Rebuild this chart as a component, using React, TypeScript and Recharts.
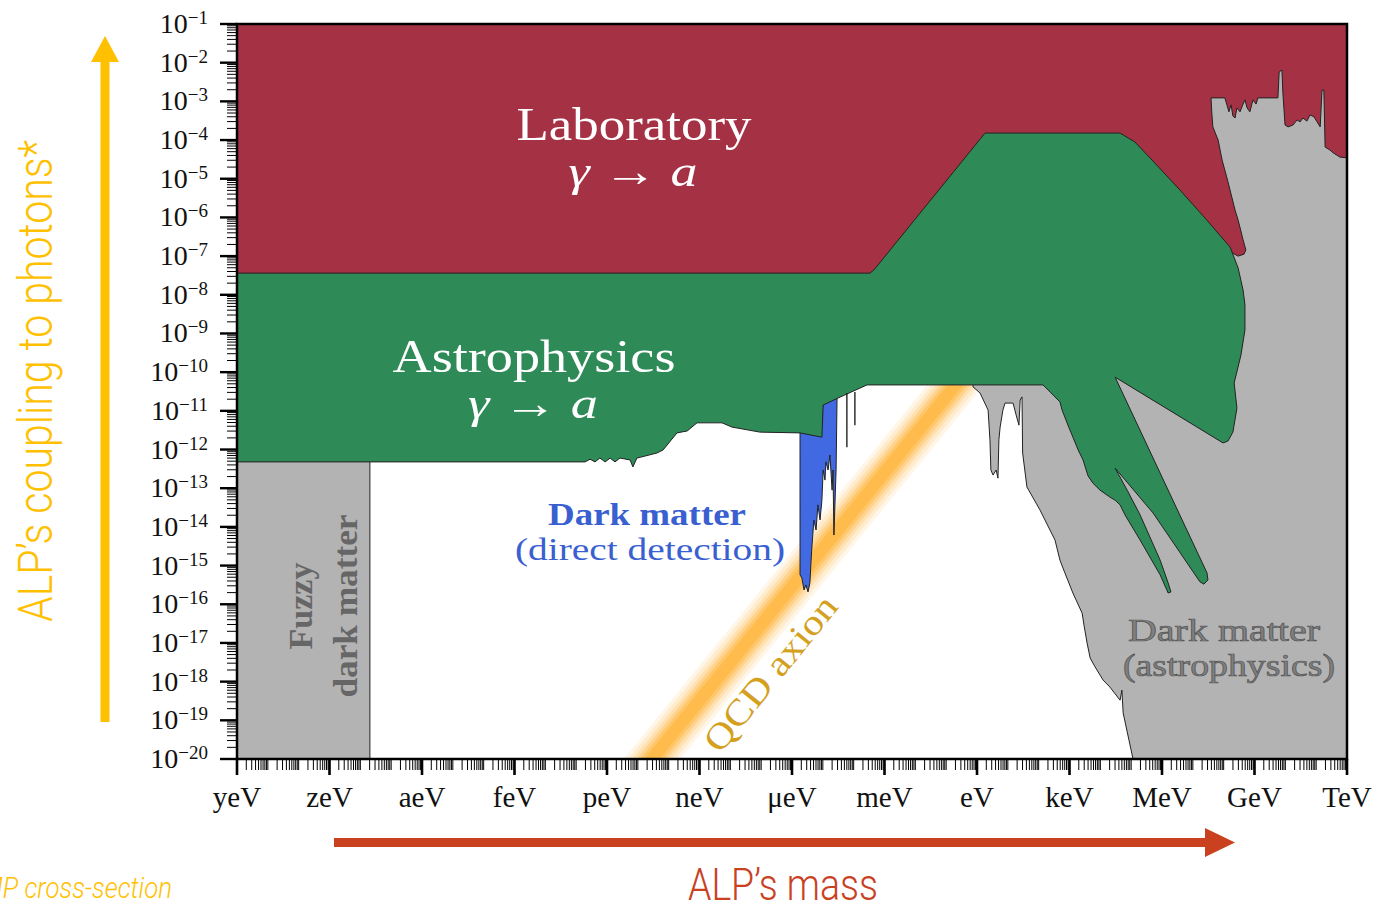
import React from 'react';
import { ScatterChart, Scatter, XAxis, YAxis } from 'recharts';

// x = log10(ALP mass / eV), y = log10(coupling to photons)
type Pt = [number, number];

const massRange = [-24, 12];
const couplingRange = [-20, -1];
const massLabels = ['yeV', 'zeV', 'aeV', 'feV', 'peV', 'neV', 'μeV', 'meV', 'eV', 'keV', 'MeV', 'GeV', 'TeV'];

const laboratory: Pt[] = [
  [-24, -1], [12, -1], [12, -7.36], [8.4, -7.36], [5.61, -4.72], [4.64, -4.05], [0.26, -4.05],
  [-3.08, -7.28], [-3.47, -7.64], [-24, -7.64], [-24, -1],
];

const fuzzyDM: Pt[] = [[-24, -12.14], [-19.69, -12.14], [-19.69, -20], [-24, -20], [-24, -12.14]];

const directDetection: Pt[] = [
  [-5.74, -11.37], [-5.03, -11.37], [-4.99, -10.59], [-4.54, -10.59], [-4.54, -10.72], [-4.57, -12.53],
  [-4.64, -14.21], [-4.67, -12.53], [-4.7, -13.05], [-4.77, -12.14], [-4.83, -12.53], [-4.9, -12.32],
  [-4.93, -12.79], [-4.99, -12.53], [-5.03, -13.31], [-5.09, -13.82], [-5.16, -13.43], [-5.22, -14.08],
  [-5.29, -13.82], [-5.35, -14.47], [-5.38, -14.86], [-5.42, -15.45], [-5.48, -15.68], [-5.55, -15.5],
  [-5.61, -15.63], [-5.68, -15.32], [-5.74, -15.24], [-5.74, -11.37],
];

const directSpikes: Pt[][] = [
  [[-4.22, -10.54], [-4.22, -11.94]],
  [[-3.96, -10.51], [-3.96, -11.37]],
];

const astroDM: Pt[] = [
  [7.59, -2.91], [8.04, -2.91], [8.17, -3.27], [8.24, -3.09], [8.3, -3.38], [8.37, -3.43], [8.43, -3.17],
  [8.53, -3.27], [8.63, -3.07], [8.69, -2.96], [8.76, -3.17], [8.85, -3.27], [8.95, -2.96], [9.05, -3.07],
  [9.11, -2.91], [9.76, -2.91], [9.8, -2.24], [9.89, -2.19], [9.92, -2.78], [9.99, -3.61], [10.09, -3.66],
  [10.25, -3.61], [10.38, -3.48], [10.48, -3.53], [10.57, -3.43], [10.7, -3.51], [10.8, -3.35], [10.93, -3.4],
  [11.03, -3.53], [11.13, -3.66], [11.19, -2.71], [11.25, -2.71], [11.29, -4.18], [11.45, -4.26],
  [11.55, -4.33], [11.77, -4.44], [12, -4.46], [12, -20], [5.06, -20], [4.74, -18.81], [4.7, -18.22],
  [4.64, -18.48], [4.31, -18.14], [4.09, -17.96], [3.83, -17.62], [3.67, -17.39], [3.57, -17.0],
  [3.47, -16.54], [3.41, -16.23], [3.11, -15.71], [2.85, -15.19], [2.69, -14.86], [2.53, -14.34],
  [2.04, -13.56], [1.62, -12.97], [1.48, -12.09], [1.46, -10.64], [1.4, -10.72], [1.36, -11.37],
  [1.27, -11.11], [1.17, -10.8], [0.91, -10.8], [0.84, -10.98], [0.75, -11.42], [0.71, -11.75],
  [0.68, -12.74], [0.62, -12.53], [0.52, -12.66], [0.45, -12.53], [0.42, -11.75], [0.36, -10.98],
  [0.1, -10.54], [-0.13, -10.38], [-0.13, -8.13], [7.23, -8.13], [8.21, -6.89], [8.47, -7.0],
  [8.66, -6.95], [8.72, -6.84], [8.63, -6.58], [8.47, -6.07], [8.37, -5.81], [8.14, -5.08], [7.95, -4.52],
  [7.82, -4.0], [7.65, -3.66], [7.62, -3.35], [7.59, -2.91],
];

const astrophysics: Pt[] = [
  [-24, -7.44], [-3.47, -7.44], [-3.31, -7.33], [-3.08, -7.1], [0.26, -3.82], [4.64, -3.82], [5.12, -4.05],
  [5.61, -4.46], [6.58, -5.29], [7.4, -6.02], [8.21, -6.77], [8.47, -7.31], [8.63, -7.88], [8.69, -8.26],
  [8.69, -8.91], [8.56, -9.56], [8.34, -10.28], [8.43, -10.93], [8.3, -11.55], [8.14, -11.78],
  [7.98, -11.83], [4.48, -10.13], [7.46, -15.19], [7.49, -15.37], [7.36, -15.48], [7.23, -15.42],
  [5.71, -13.64], [4.48, -12.48], [4.87, -13.05], [5.29, -13.69], [5.94, -14.86], [6.2, -15.45],
  [6.29, -15.68], [6.2, -15.71], [5.94, -15.24], [5.29, -14.34], [4.8, -13.69], [4.64, -13.43],
  [4.48, -13.31], [4.31, -13.23], [3.99, -13.05], [3.76, -12.87], [3.6, -12.68], [3.44, -12.27],
  [3.28, -12.01], [3.11, -11.68], [2.95, -11.37], [2.76, -10.98], [2.69, -10.77], [2.37, -10.51],
  [2.14, -10.33], [-3.57, -10.33], [-4.51, -10.67], [-4.99, -10.85], [-5.03, -11.68], [-5.74, -11.57],
  [-7.04, -11.55], [-7.95, -11.42], [-8.27, -11.31], [-9.08, -11.31], [-9.4, -11.52], [-9.73, -11.57],
  [-10.18, -12.01], [-10.38, -12.09], [-10.77, -12.17], [-11.03, -12.22], [-11.16, -12.45],
  [-11.25, -12.27], [-11.58, -12.22], [-11.74, -12.32], [-11.9, -12.22], [-12.06, -12.32],
  [-12.23, -12.22], [-12.39, -12.32], [-12.55, -12.25], [-12.71, -12.32], [-13.04, -12.32],
  [-24, -12.32], [-24, -7.44],
];

const qcdAxion: Pt[] = [[-11.56, -21], [0.15, -9.5]];

// soft edges of the QCD band: wide faint strokes under narrow strong ones
const qcdStrokes = [
  { width: 44, opacity: 0.12 },
  { width: 37, opacity: 0.15 },
  { width: 30, opacity: 0.22 },
  { width: 24, opacity: 0.3 },
  { width: 18, opacity: 0.45 },
  { width: 12, opacity: 0.7 },
];

const regions = [
  { name: 'laboratory', pts: laboratory, fill: '#a53145' },
  { name: 'fuzzy', pts: fuzzyDM, fill: '#b3b3b3' },
  { name: 'direct', pts: directDetection, fill: '#4169e1' },
  { name: 'astroDM', pts: astroDM, fill: '#b3b3b3' },
  { name: 'astrophysics', pts: astrophysics, fill: '#2e8b57' },
];

const serif = '"Liberation Serif", "DejaVu Serif", serif';
const thin = 'Roboto, "Open Sans", "Liberation Sans", sans-serif';

const log10 = (k: number) => Math.log(k) / Math.LN10;
const minorTicks = (from: number, to: number) => {
  const out: number[] = [];
  for (let n = from; n <= to; n++) {
    out.push(n);
    if (n < to) for (let k = 2; k <= 9; k++) out.push(n + log10(k));
  }
  return out;
};
const massTicks = minorTicks(massRange[0], massRange[1]);
const couplingTicks = minorTicks(couplingRange[0], couplingRange[1]);

const isDecade = (v: number) => Math.abs(v - Math.round(v)) < 1e-9;
const toRows = (pts: Pt[]) => pts.map(([m, g]) => ({ m, g }));
const noDot = () => <g />;

const MassTick = (props: any) => {
  const { x, y, payload } = props;
  const v: number = payload.value;
  const step = Math.round(v) - massRange[0];
  const label = isDecade(v) && step % 3 === 0 ? massLabels[step / 3] : null;
  return (
    <g>
      <line x1={x} x2={x} y1={y} y2={y + (label ? 16 : 11)} stroke="#000" strokeWidth={label ? 2.6 : 1} />
      {label && (
        <text x={x} y={y + 48} textAnchor="middle" fontFamily={serif} fontSize={29} fill="#111">
          {label}
        </text>
      )}
    </g>
  );
};

const CouplingTick = (props: any) => {
  const { x, y, payload } = props;
  const v: number = payload.value;
  const dec = isDecade(v);
  return (
    <g>
      <line x1={x - (dec ? 17 : 10)} x2={x} y1={y} y2={y} stroke="#000" strokeWidth={dec ? 2.4 : 1} />
      {dec && (
        <text x={x - 29} y={y + 9} textAnchor="end" fontFamily={serif} fontSize={28} fill="#111">
          10
          <tspan dy={-9} fontSize={19}>
            {'\u2212' + Math.abs(Math.round(v))}
          </tspan>
        </text>
      )}
    </g>
  );
};

const Overlay = () => (
  <svg
    width={1376}
    height={911}
    style={{ position: 'absolute', left: 0, top: 0, pointerEvents: 'none' }}
  >
    <rect x={237} y={24} width={1110} height={735} fill="none" stroke="#000" strokeWidth={2.5} />

    <text x={634} y={140} textAnchor="middle" fontFamily={serif} fontSize={46} fill="#fff" textLength={235} lengthAdjust="spacingAndGlyphs">
      Laboratory
    </text>
    <text x={633} y={186} textAnchor="middle" fontFamily={serif} fontSize={44} fill="#fff" textLength={129} lengthAdjust="spacingAndGlyphs">
      <tspan fontStyle="italic">γ</tspan> → <tspan fontStyle="italic">a</tspan>
    </text>

    <text x={534} y={372} textAnchor="middle" fontFamily={serif} fontSize={46} fill="#fff" textLength={283} lengthAdjust="spacingAndGlyphs">
      Astrophysics
    </text>
    <text x={533} y={418} textAnchor="middle" fontFamily={serif} fontSize={44} fill="#fff" textLength={130} lengthAdjust="spacingAndGlyphs">
      <tspan fontStyle="italic">γ</tspan> → <tspan fontStyle="italic">a</tspan>
    </text>

    <text x={647} y={525} textAnchor="middle" fontFamily={serif} fontSize={32} fontWeight="bold" fill="#3a5fd0" textLength={198} lengthAdjust="spacingAndGlyphs">
      Dark matter
    </text>
    <text x={650} y={560} textAnchor="middle" fontFamily={serif} fontSize={32} fill="#3a5fd0" textLength={270} lengthAdjust="spacingAndGlyphs">
      (direct detection)
    </text>

    <text x={312} y={606} transform="rotate(-90 312 606)" textAnchor="middle" fontFamily={serif} fontSize={34} fontWeight="bold" fill="#666">
      Fuzzy
    </text>
    <text x={357} y={606} transform="rotate(-90 357 606)" textAnchor="middle" fontFamily={serif} fontSize={34} fontWeight="bold" fill="#666" textLength={183} lengthAdjust="spacingAndGlyphs">
      dark matter
    </text>

    <text x={1224} y={641} textAnchor="middle" fontFamily={serif} fontSize={32} fill="#808080" stroke="#555" strokeWidth={0.7} textLength={192} lengthAdjust="spacingAndGlyphs">
      Dark matter
    </text>
    <text x={1229} y={676} textAnchor="middle" fontFamily={serif} fontSize={32} fill="#808080" stroke="#555" strokeWidth={0.7} textLength={212} lengthAdjust="spacingAndGlyphs">
      (astrophysics)
    </text>

    <text x={770} y={673} dy="0.35em" transform="rotate(-51 770 673)" textAnchor="middle" fontFamily={serif} fontSize={36} fill="#d4a020" textLength={190} lengthAdjust="spacingAndGlyphs">
      QCD axion
    </text>

    {/* coupling arrow and title */}
    <rect x={100.5} y={60} width={9} height={662} fill="#ffc000" />
    <polygon points="91,62 105,36 119,62" fill="#ffc000" />
    <text x={52} y={381} transform="rotate(-90 52 381)" textAnchor="middle" fontFamily={thin} fontWeight={300} fontSize={48} fill="#ffc000" textLength={482} lengthAdjust="spacingAndGlyphs">
      ALP’s coupling to photons*
    </text>

    {/* mass arrow and title */}
    <rect x={334} y={838} width={873} height={9} fill="#c9411f" />
    <polygon points="1205,828 1235,842.5 1205,857" fill="#c9411f" />
    <text x={783} y={900} textAnchor="middle" fontFamily={thin} fontWeight={300} fontSize={44} fill="#c9411f" textLength={190} lengthAdjust="spacingAndGlyphs">
      ALP’s mass
    </text>

    {/* the reference crops this label at the left edge */}
    <text x={172} y={898} textAnchor="end" fontFamily={thin} fontWeight={300} fontSize={29} fontStyle="italic" fill="#ffc000" textLength={220} lengthAdjust="spacingAndGlyphs">
      WIMP cross-section
    </text>
  </svg>
);

export default function App() {
  return (
    <div style={{ position: 'absolute', left: 0, top: 0, width: 1376, height: 911, background: '#fff' }}>
      <ScatterChart width={1376} height={911} margin={{ top: 24, right: 29, bottom: 0, left: 0 }}>
        <XAxis
          type="number"
          dataKey="m"
          domain={massRange}
          ticks={massTicks}
          interval={0}
          tick={MassTick}
          tickLine={false}
          axisLine={false}
          tickSize={0}
          tickMargin={0}
          height={152}
          allowDataOverflow
        />
        <YAxis
          type="number"
          dataKey="g"
          domain={couplingRange}
          ticks={couplingTicks}
          interval={0}
          tick={CouplingTick}
          tickLine={false}
          axisLine={false}
          tickSize={0}
          tickMargin={0}
          width={237}
          allowDataOverflow
        />

        {qcdStrokes.map((s, i) => (
          <Scatter
            key={`qcd-${i}`}
            data={toRows(qcdAxion)}
            shape={noDot}
            line={{ stroke: '#ffb640', strokeWidth: s.width, strokeOpacity: s.opacity, fill: 'none' }}
            isAnimationActive={false}
          />
        ))}

        {regions.map((r) => (
          <Scatter
            key={r.name}
            data={toRows(r.pts)}
            shape={noDot}
            line={{ fill: r.fill, stroke: '#222', strokeWidth: 1, strokeLinejoin: 'round' }}
            isAnimationActive={false}
          />
        ))}

        {directSpikes.map((s, i) => (
          <Scatter
            key={`spike-${i}`}
            data={toRows(s)}
            shape={noDot}
            line={{ stroke: '#111', strokeWidth: 1.3, fill: 'none' }}
            isAnimationActive={false}
          />
        ))}
      </ScatterChart>
      <Overlay />
    </div>
  );
}
